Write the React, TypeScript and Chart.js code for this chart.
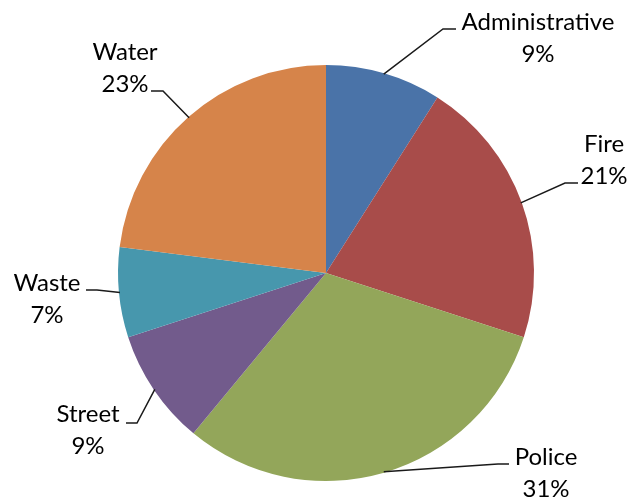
import React, { useEffect, useRef } from "react";
import { Chart, registerables } from "chart.js";

Chart.register(...registerables);

const categories = ["Administrative", "Fire", "Police", "Street", "Waste", "Water"];
const values = [9, 21, 31, 9, 7, 23];
const colors = ["#4A73A8", "#A84C4A", "#93A65A", "#725B8C", "#4797AD", "#D6844A"];

// label layout (text centre x, first baseline y, leader elbow, end of horizontal stub)
const labelLayout = [
  { tx: 538, ty: 30, ex: 443, ey: 29, hx: 456 },
  { tx: 604, ty: 152, ex: 565, ey: 183, hx: 578 },
  { tx: 546, ty: 465, ex: 498, ey: 464, hx: 509 },
  { tx: 88, ty: 422, ex: 137, ey: 423, hx: 126 },
  { tx: 47, ty: 291, ex: 97, ey: 290, hx: 86 },
  { tx: 125, ty: 60, ex: 163, ey: 91, hx: 151 },
];

const labelPlugin = {
  id: "outerLabels",
  afterDatasetsDraw(chart: any) {
    const ctx = chart.ctx;
    const meta = chart.getDatasetMeta(0);
    const data = chart.data.datasets[0].data as number[];
    const total = data.reduce((a, b) => a + b, 0);
    ctx.save();
    meta.data.forEach((arc: any, i: number) => {
      const p = arc.getProps(["x", "y", "startAngle", "endAngle", "outerRadius"], true);
      const mid = (p.startAngle + p.endAngle) / 2;
      const px = p.x + Math.cos(mid) * (p.outerRadius - 1);
      const py = p.y + Math.sin(mid) * (p.outerRadius - 1);
      const L = labelLayout[i];
      ctx.strokeStyle = "#1a1a1a";
      ctx.lineWidth = 1.5;
      ctx.beginPath();
      ctx.moveTo(px, py);
      ctx.lineTo(L.ex, L.ey);
      ctx.lineTo(L.hx, L.ey);
      ctx.stroke();
      ctx.fillStyle = "#000";
      ctx.font = "24px Lato";
      ctx.textAlign = "center";
      ctx.textBaseline = "alphabetic";
      ctx.fillText(chart.data.labels[i], L.tx, L.ty);
      ctx.fillText(Math.round((data[i] / total) * 100) + "%", L.tx, L.ty + 32);
    });
    ctx.restore();
  },
};

export default function App() {
  const ref = useRef<HTMLCanvasElement>(null);
  useEffect(() => {
    if (!ref.current) return;
    const chart = new Chart(ref.current, {
      type: "pie",
      data: {
        labels: categories,
        datasets: [
          {
            data: values,
            backgroundColor: colors,
            borderWidth: 0,
          },
        ],
      },
      options: {
        responsive: false,
        animation: false,
        layout: { padding: { left: 118, right: 97, top: 65, bottom: 17 } },
        plugins: { legend: { display: false }, tooltip: { enabled: false } },
      },
      plugins: [labelPlugin],
    });
    return () => chart.destroy();
  }, []);
  return (
    <div style={{ position: "fixed", left: 0, top: 0, width: 631, height: 498, background: "#fff" }}>
      <canvas ref={ref} width={631} height={498} />
    </div>
  );
}
